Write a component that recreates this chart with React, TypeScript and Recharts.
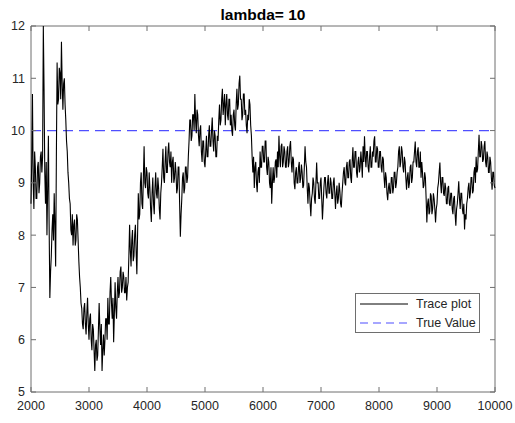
import { LineChart, Line, XAxis, YAxis, ReferenceLine, ReferenceArea, Legend } from "recharts";

const TITLE = "lambda= 10";
const TRUE_VALUE = 10;
const ITER_START = 2000;
const ITER_STEP = 12.5;

const xTicks = [2000, 3000, 4000, 5000, 6000, 7000, 8000, 9000, 10000];
const yTicks = [5, 6, 7, 8, 9, 10, 11, 12];

// thinned lambda draws, one row per 100 iterations
const traceValues = [
  8.6, 9.4, 10.7, 9.0, 8.5, 9.6, 9.3, 8.7, // 2000
  8.7, 9.3, 9.4, 8.8, 9.0, 9.5, 9.6, 9.2,
  9.5, 12.0, 10.8, 9.2, 8.6, 9.4, 8.0, 8.9,
  9.9, 8.2, 6.8, 7.3, 7.6, 8.1, 8.4, 7.9,
  8.8, 8.2, 7.4, 9.5, 11.3, 10.5, 10.6, 11.2,
  11.1, 10.6, 11.7, 10.9, 10.4, 10.9, 11.0, 10.5,
  10.2, 9.8, 9.6, 9.2, 9.0, 8.7, 8.6, 8.1,
  8.0, 8.4, 7.8, 8.2, 8.3, 7.8, 7.9, 8.4,
  8.3, 7.9, 7.5, 7.2, 7.0, 6.7, 6.6, 6.3,
  6.2, 6.6, 6.7, 6.3, 6.1, 6.5, 6.8, 6.3,
  6.0, 6.4, 6.5, 6.0, 5.8, 6.3, 6.2, 5.8, // 3000
  5.4, 5.9, 6.0, 5.6, 5.7, 6.2, 6.7, 6.2,
  5.9, 6.3, 5.4, 5.8, 6.1, 5.7, 6.0, 6.4,
  6.4, 6.0, 6.8, 6.3, 6.3, 6.9, 7.2, 6.7,
  6.4, 6.8, 5.95, 6.5, 7.1, 6.6, 6.4, 6.9,
  7.2, 6.8, 6.9, 7.3, 7.4, 6.9, 7.0, 7.3,
  7.2, 6.9, 6.9, 7.2, 6.75, 7.0, 7.1, 7.6,
  8.2, 7.7, 7.4, 7.9, 8.1, 7.5, 7.6, 8.0,
  8.2, 7.7, 7.25, 8.0, 8.8, 8.3, 8.4, 9.0,
  9.2, 8.6, 8.5, 9.1, 9.7, 9.0, 8.9, 9.3,
  9.2, 8.8, 8.7, 9.2, 8.9, 8.5, 8.25, 8.8, // 4000
  9.1, 8.6, 8.4, 8.9, 9.2, 8.8, 8.7, 9.1,
  8.9, 8.5, 8.3, 8.8, 9.0, 9.3, 9.65, 9.1,
  9.0, 9.4, 9.7, 9.2, 9.2, 9.6, 9.77, 9.4,
  9.3, 9.6, 9.0, 9.4, 9.5, 9.0, 9.1, 9.4,
  9.2, 8.8, 8.9, 9.3, 9.3, 8.6, 7.97, 8.4,
  8.7, 9.1, 9.2, 8.8, 8.9, 9.3, 9.3, 9.0,
  9.1, 9.5, 9.8, 10.2, 10.2, 9.8, 9.9, 10.3,
  10.3, 10.0, 10.7, 10.2, 9.95, 10.4, 10.3, 9.9,
  9.7, 10.0, 10.1, 9.6, 9.4, 9.8, 9.8, 9.4,
  9.3, 9.6, 9.9, 9.5, 9.5, 9.9, 10.1, 9.7, // 5000
  9.7, 10.0, 10.25, 9.8, 9.6, 10.0, 9.9, 9.5,
  9.5, 9.9, 9.8, 10.2, 10.5, 10.1, 10.2, 10.6,
  10.8, 10.3, 10.5, 10.7, 10.1, 10.5, 10.7, 10.3,
  10.2, 10.6, 10.6, 10.1, 10.3, 10.0, 9.9, 10.3,
  10.4, 10.1, 10.0, 10.5, 10.8, 10.4, 10.5, 10.9,
  11.05, 10.6, 10.6, 10.2, 10.3, 10.7, 10.7, 10.3,
  10.4, 10.1, 9.95, 10.3, 10.2, 10.6, 10.5, 10.1,
  9.9, 9.5, 9.2, 9.5, 8.9, 9.3, 9.4, 9.0,
  8.82, 9.2, 9.3, 9.0, 9.6, 9.3, 9.3, 9.7,
  9.7, 9.4, 9.4, 9.8, 9.8, 9.3, 9.15, 9.5, // 6000
  9.4, 9.0, 8.9, 9.3, 8.6, 9.0, 9.3, 9.0,
  9.1, 9.4, 9.45, 9.1, 9.6, 9.3, 9.9, 9.5,
  9.3, 9.7, 9.75, 9.3, 9.4, 9.7, 9.6, 9.3,
  9.3, 9.6, 9.7, 9.3, 9.4, 9.7, 9.8, 9.4,
  9.2, 9.5, 9.45, 9.0, 8.88, 9.2, 9.3, 9.0,
  9.0, 9.3, 9.4, 9.0, 9.1, 9.35, 9.2, 8.9,
  8.95, 9.3, 9.7, 9.4, 9.3, 8.9, 8.6, 9.0,
  8.9, 8.6, 8.36, 8.7, 8.8, 9.1, 9.0, 8.7,
  8.6, 9.0, 9.39, 9.0, 9.0, 8.7, 8.7, 9.0,
  9.1, 8.7, 8.3, 8.6, 8.9, 9.1, 9.1, 8.8, // 7000
  8.7, 9.0, 9.15, 8.8, 8.8, 9.1, 9.0, 8.7,
  8.7, 9.0, 9.1, 8.8, 8.5, 8.8, 8.95, 8.6,
  8.7, 9.0, 8.85, 8.6, 8.53, 8.8, 9.0, 9.2,
  9.3, 9.0, 8.95, 9.3, 9.4, 9.1, 9.1, 9.4,
  9.45, 9.1, 9.0, 9.4, 9.68, 9.3, 9.3, 9.6,
  9.6, 9.2, 9.1, 9.4, 9.5, 9.2, 9.3, 9.6,
  9.4, 9.1, 9.7, 9.4, 9.89, 9.5, 9.3, 9.6,
  9.6, 9.3, 9.2, 9.5, 9.7, 9.3, 9.3, 9.6,
  9.5, 9.8, 9.89, 9.4, 9.4, 9.7, 9.65, 9.3,
  9.3, 9.6, 9.6, 9.3, 9.2, 9.5, 9.45, 9.1, // 8000
  8.9, 9.2, 9.1, 8.8, 8.67, 8.9, 9.0, 8.8,
  8.8, 9.1, 9.1, 8.8, 8.9, 9.2, 9.2, 8.9,
  9.0, 9.2, 9.3, 9.6, 9.7, 9.3, 9.4, 9.7,
  9.6, 9.3, 9.2, 9.5, 9.4, 9.1, 8.87, 9.1,
  9.2, 8.9, 9.0, 9.3, 9.35, 9.0, 9.1, 9.4,
  9.4, 9.6, 9.79, 9.4, 9.3, 9.6, 9.68, 9.3,
  9.3, 9.6, 9.1, 9.4, 9.2, 8.9, 8.95, 9.2,
  9.1, 8.7, 8.24, 8.6, 8.7, 8.4, 8.45, 8.8,
  8.75, 8.4, 8.5, 8.8, 8.7, 8.5, 8.24, 8.5,
  8.6, 8.9, 9.0, 9.2, 9.39, 9.0, 8.8, 9.1, // 9000
  9.1, 8.8, 8.75, 9.0, 8.9, 8.6, 8.6, 8.9,
  8.94, 8.6, 8.56, 8.8, 8.8, 8.5, 8.4, 8.7,
  8.75, 8.4, 8.18, 8.5, 8.6, 8.8, 9.03, 8.7,
  8.5, 8.8, 8.8, 8.5, 8.4, 8.6, 8.11, 8.4,
  8.3, 8.6, 8.7, 8.9, 9.0, 8.7, 8.8, 9.1,
  9.1, 8.8, 8.85, 9.2, 9.3, 9.0, 9.5, 9.2,
  9.26, 9.6, 9.92, 9.5, 9.5, 9.8, 9.7, 9.4,
  9.45, 9.7, 9.8, 9.4, 9.3, 9.6, 9.5, 9.2,
  9.2, 9.5, 9.4, 9.1, 8.87, 9.2, 9.2, 8.95,
  8.9, // 10000
];

const data = traceValues.map((v, i) => ({ iter: ITER_START + i * ITER_STEP, lambda: v }));

const FONT = "'Liberation Sans', Arial, Helvetica, sans-serif";
const AXIS_COLOR = "#6e6e6e";
const TEXT_COLOR = "#262626";
const TRUE_COLOR = "#4f4fff";

// plot box in page pixels
const W = 515;
const H = 423;
const PLOT_LEFT = 31;
const PLOT_RIGHT = 495;
const PLOT_TOP = 26;
const PLOT_BOTTOM = 392;
const TICK_LEN = 5;
const X_LABEL_GAP = 9;
const Y_LABEL_GAP = 6;
const FONT_SIZE = 12.5;

// bottom labels + inward ticks on bottom and top edges
const XTick = ({ x, y, payload }: any) => (
  <g>
    <line x1={x} y1={PLOT_BOTTOM} x2={x} y2={PLOT_BOTTOM - TICK_LEN} stroke={AXIS_COLOR} />
    <line x1={x} y1={PLOT_TOP} x2={x} y2={PLOT_TOP + TICK_LEN} stroke={AXIS_COLOR} />
    <text x={x} y={y} dy="0.71em" textAnchor="middle" fill={TEXT_COLOR} fontSize={FONT_SIZE} fontFamily={FONT}>
      {payload.value}
    </text>
  </g>
);

// left labels + inward ticks on left and right edges
const YTick = ({ x, y, payload }: any) => (
  <g>
    <line x1={PLOT_LEFT} y1={y} x2={PLOT_LEFT + TICK_LEN} y2={y} stroke={AXIS_COLOR} />
    <line x1={PLOT_RIGHT} y1={y} x2={PLOT_RIGHT - TICK_LEN} y2={y} stroke={AXIS_COLOR} />
    <text x={x} y={y} dy="0.355em" textAnchor="end" fill={TEXT_COLOR} fontSize={FONT_SIZE} fontFamily={FONT}>
      {payload.value}
    </text>
  </g>
);

const LegendBox = () => (
  <div
    style={{
      width: 123,
      height: 38,
      border: `1px solid ${AXIS_COLOR}`,
      background: "#fff",
      fontFamily: FONT,
      fontSize: FONT_SIZE,
      color: TEXT_COLOR,
      boxSizing: "content-box",
    }}
  >
    <div style={{ display: "flex", alignItems: "center", height: 19 }}>
      <svg width={56} height={10} style={{ marginLeft: 4 }}>
        <line x1={0} y1={5} x2={48} y2={5} stroke="#000" strokeWidth={1} />
      </svg>
      <span>Trace plot</span>
    </div>
    <div style={{ display: "flex", alignItems: "center", height: 19 }}>
      <svg width={56} height={10} style={{ marginLeft: 4 }}>
        <line x1={0} y1={5} x2={48} y2={5} stroke={TRUE_COLOR} strokeWidth={1.2} strokeDasharray="8 5" />
      </svg>
      <span>True Value</span>
    </div>
  </div>
);

export default function App() {
  const yAxisWidth = 25;
  const xAxisHeight = 20;
  return (
    <div style={{ position: "absolute", left: 0, top: 0, width: W, height: H, background: "#fff" }}>
      <div
        style={{
          position: "absolute",
          left: PLOT_LEFT,
          width: PLOT_RIGHT - PLOT_LEFT,
          top: 7,
          textAlign: "center",
          fontFamily: FONT,
          fontWeight: "bold",
          fontSize: 15.5,
          lineHeight: "15px",
          color: "#000",
        }}
      >
        {TITLE}
      </div>
      <LineChart
        width={W}
        height={H}
        data={data}
        margin={{
          top: PLOT_TOP,
          right: W - PLOT_RIGHT,
          bottom: H - PLOT_BOTTOM - xAxisHeight,
          left: PLOT_LEFT - yAxisWidth,
        }}
      >
        <XAxis
          xAxisId="x"
          dataKey="iter"
          type="number"
          domain={[2000, 10000]}
          ticks={xTicks}
          interval={0}
          height={xAxisHeight}
          tickLine={false}
          axisLine={false}
          tickSize={0}
          tickMargin={X_LABEL_GAP}
          tick={<XTick />}
        />
        <YAxis
          yAxisId="y"
          type="number"
          domain={[5, 12]}
          ticks={yTicks}
          interval={0}
          width={yAxisWidth}
          tickLine={false}
          axisLine={false}
          tickSize={0}
          tickMargin={Y_LABEL_GAP}
          tick={<YTick />}
        />

        <ReferenceLine
          xAxisId="x"
          yAxisId="y"
          y={TRUE_VALUE}
          stroke={TRUE_COLOR}
          strokeWidth={1.3}
          strokeDasharray="10 6"
        />
        <Line
          xAxisId="x"
          yAxisId="y"
          dataKey="lambda"
          name="Trace plot"
          stroke="#000"
          strokeWidth={1.1}
          dot={false}
          isAnimationActive={false}
        />
        {/* axes box */}
        <ReferenceArea
          xAxisId="x"
          yAxisId="y"
          x1={2000}
          x2={10000}
          y1={5}
          y2={12}
          fill="none"
          fillOpacity={0}
          stroke={AXIS_COLOR}
          strokeWidth={1}
        />
        <Legend
          layout="horizontal"
          verticalAlign="middle"
          align="center"
          content={<LegendBox />}
          wrapperStyle={{ position: "absolute", left: 355, top: 293, width: 125, height: 40, bottom: "auto", right: "auto" }}
        />
      </LineChart>
    </div>
  );
}
